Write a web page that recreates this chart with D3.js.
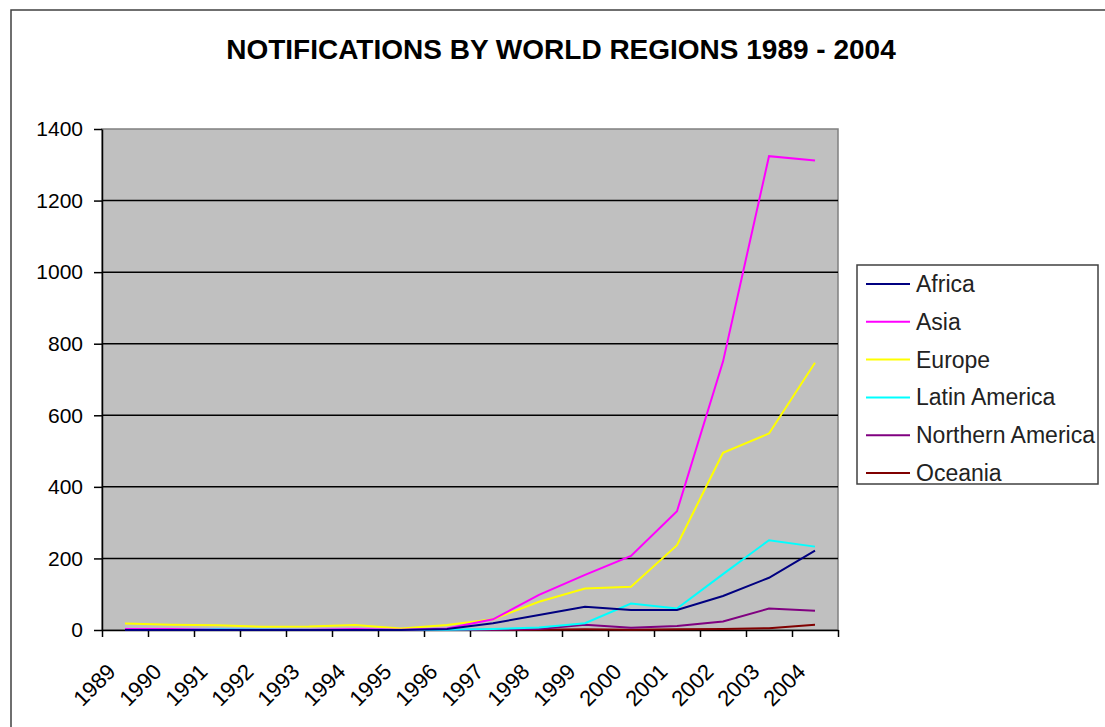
<!DOCTYPE html>
<html>
<head>
<meta charset="utf-8">
<script src="https://cdn.jsdelivr.net/npm/d3@7"></script>
<style>
  body { margin: 0; background: #fff; }
  svg { display: block; font-family: "Liberation Sans", Arial, sans-serif; }
</style>
</head>
<body>
<svg width="1105" height="727"></svg>
<script>
// Data
var years = ["1989", "1990", "1991", "1992", "1993", "1994", "1995", "1996",
             "1997", "1998", "1999", "2000", "2001", "2002", "2003", "2004"];
var regions = ["Africa", "Asia", "Europe", "Latin America", "Northern America", "Oceania"];
var africa   = [0, 0, 0, 0, 0, 0, 0, 3, 19, 42, 65, 56, 56, 95, 146, 222];
var asia     = [3, 3, 1, 1, 1, 3, 1, 4, 30, 98, 154, 207, 332, 750, 1324, 1312];
var europe   = [18, 15, 13, 9, 10, 14, 4, 14, 30, 79, 116, 121, 237, 495, 549, 747];
var latinAm  = [1, 1, 3, 2, 1, 1, 1, 1, 3, 7, 19, 74, 60, 156, 251, 233];
var northAm  = [0, 0, 0, 0, 0, 0, 0, 0, 1, 3, 15, 6, 11, 24, 60, 54];
var oceania  = [0, 0, 0, 0, 0, 0, 0, 0, 0, 1, 2, 1, 2, 3, 5, 15];
var yTicks = [0, 200, 400, 600, 800, 1000, 1200, 1400];
var colors = ["#000080", "#ff00ff", "#ffff00", "#00ffff", "#800080", "#800000"];

var seriesValues = [africa, asia, europe, latinAm, northAm, oceania];
var series = regions.map((name, i) => ({
  name: name,
  color: colors[i],
  values: years.map((yr, j) => ({year: yr, value: seriesValues[i][j]}))
}));

var svg = d3.select('svg');

// outer chart border
svg.append('rect')
    .attr('x', 11).attr('y', 10)
    .attr('width', 1110).attr('height', 740)
    .attr('fill', 'none')
    .attr('stroke', '#404040')
    .attr('stroke-width', 1.5);

// title
svg.append('text')
    .attr('x', 561).attr('y', 59)
    .attr('text-anchor', 'middle')
    .style('font-size', '28px')
    .style('font-weight', 'bold')
    .text('NOTIFICATIONS BY WORLD REGIONS 1989 - 2004');

var plotLeft = 102, plotRight = 838, plotTop = 129, plotBottom = 630;

var x = d3.scaleBand().domain(years).range([plotLeft, plotRight]).paddingInner(0).paddingOuter(0);
var xTick = d3.scaleLinear().domain([0, years.length]).range([plotLeft, plotRight]);
var y = d3.scaleLinear().domain([0, 1400]).range([plotBottom, plotTop]);

// plot area
svg.append('rect')
    .attr('x', plotLeft).attr('y', plotTop)
    .attr('width', plotRight - plotLeft).attr('height', plotBottom - plotTop)
    .attr('fill', '#c0c0c0')
    .attr('stroke', '#808080')
    .attr('stroke-width', 1.5);

// gridlines
svg.append('g')
    .selectAll('line')
    .data(yTicks.filter(d => d > 0 && d < 1400))
    .enter().append('line')
    .attr('x1', plotLeft).attr('x2', plotRight)
    .attr('y1', d => y(d)).attr('y2', d => y(d))
    .attr('stroke', '#000')
    .attr('stroke-width', 1.5);

// y axis
var yAxis = svg.append('g')
    .attr('transform', 'translate(' + plotLeft + ',0)')
    .call(d3.axisLeft(y).tickValues(yTicks).tickFormat(d3.format('d'))
      .tickSize(8).tickSizeOuter(0).tickPadding(11));
yAxis.selectAll('path, line').attr('stroke', '#000').attr('stroke-width', 1.5);
yAxis.selectAll('text').style('font-size', '21px').attr('fill', '#000')
    .style('font-family', '"Liberation Sans", Arial, sans-serif');

// x axis (ticks between categories)
var xAxis = svg.append('g')
    .attr('transform', 'translate(0,' + plotBottom + ')')
    .call(d3.axisBottom(xTick).ticks(years.length).tickSize(7).tickSizeOuter(0).tickFormat(''));
xAxis.selectAll('path, line').attr('stroke', '#000').attr('stroke-width', 1.5);

// x labels
svg.append('g')
    .selectAll('text')
    .data(years)
    .enter().append('text')
    .attr('transform', d => 'translate(' + (x(d) + x.bandwidth() / 2 - 8) + ',673) rotate(-45)')
    .attr('text-anchor', 'end')
    .style('font-size', '22px')
    .text(d => d);

// lines
var line = d3.line()
    .x(d => x(d.year) + x.bandwidth() / 2)
    .y(d => y(d.value));

svg.append('g')
    .selectAll('path')
    .data(series.slice().reverse())
    .enter().append('path')
    .attr('d', d => line(d.values))
    .attr('fill', 'none')
    .attr('stroke', d => d.color)
    .attr('stroke-width', 2);

// legend
var legend = svg.append('g');
legend.append('rect')
    .attr('x', 857).attr('y', 265)
    .attr('width', 241).attr('height', 219)
    .attr('fill', '#fff')
    .attr('stroke', '#404040')
    .attr('stroke-width', 1.5);

var item = legend.selectAll('g.item')
    .data(series)
    .enter().append('g')
    .attr('class', 'item')
    .attr('transform', (d, i) => 'translate(0,' + (284 + i * 37.8) + ')');
item.append('line')
    .attr('x1', 866).attr('x2', 910)
    .attr('stroke', d => d.color)
    .attr('stroke-width', 2);
item.append('text')
    .attr('x', 916).attr('y', 8)
    .style('font-size', '23px')
    .attr('fill', '#222')
    .text(d => d.name);
</script>
</body>
</html>
